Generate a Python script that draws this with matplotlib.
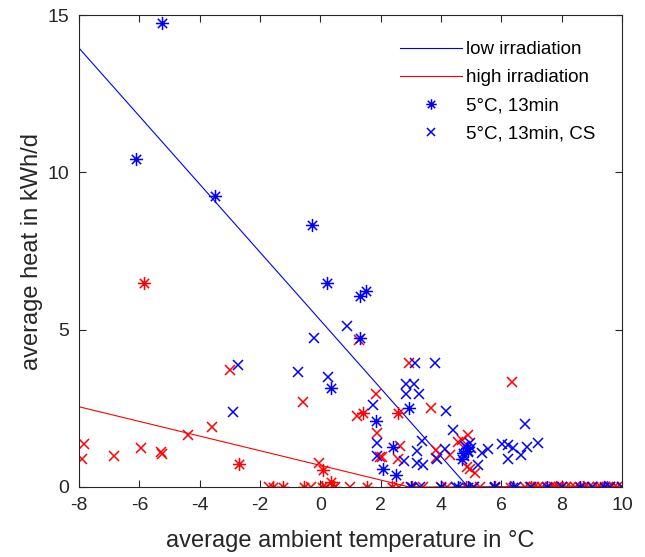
import numpy as np
import matplotlib
matplotlib.use("Agg")
import matplotlib.pyplot as plt
from matplotlib.path import Path

# ---------------- data ----------------
# fitted lines (low / high irradiation)
low_line_x = [-8, 4.9, 10]
low_line_y = [13.95, 0, 0]
high_line_x = [-8, 2.95, 10]
high_line_y = [2.55, 0, 0]

# low irradiation, 5°C 13min (blue asterisks)
low13_x = [-5.25, -6.11, -3.5, -0.26, 0.21, 1.33, 1.53, 1.33, 0.34, 2.95, 1.83,
           2.42, 2.09, 2.52, 4.74, 4.85, 4.7, 4.9, 3.0, 4.0, 4.55, 4.9, 5.75, 6.4,
           7.5, 8.6, 9.4]
low13_y = [14.74, 10.42, 9.25, 8.33, 6.48, 6.07, 6.23, 4.73, 3.15, 2.5, 2.1,
           1.27, 0.57, 0.38, 1.07, 1.25, 0.9, 1.15, 0, 0, 0, 0, 0, 0,
           0, 0, 0]

# low irradiation, 5°C 13min CS (blue x)
lowcs_x = [-0.22, 0.87, -2.74, -2.9, -0.75, 0.24, 3.15, 3.81, 2.85, 3.09, 2.85,
           3.28, 4.18, 1.73, 1.89, 1.89, 2.79, 3.19, 3.38, 3.22, 3.42, 4.41, 3.88,
           4.14, 5.57, 5.37, 5.24, 6.03, 6.23, 6.39, 6.23, 6.66, 6.86, 7.22, 6.79,
           4.97, 4.8, 4.9, 5.0, 4.75, 3.0, 3.3, 4.5, 5.1, 5.8, 6.5, 7.0, 8.0, 9.0,
           9.6, 10.0]
lowcs_y = [4.73, 5.11, 3.87, 2.38, 3.65, 3.5, 3.94, 3.94, 3.27, 3.27, 2.95,
           2.95, 2.42, 2.6, 1.4, 0.99, 0.83, 1.14, 1.46, 0.76, 0.7, 1.81, 0.89,
           1.2, 1.2, 1.07, 0.7, 1.37, 1.33, 1.24, 0.89, 1.02, 1.27, 1.4, 2.0,
           1.4, 1.3, 1.1, 1.25, 1.0, 0, 0, 0, 0, 0, 0, 0, 0, 0,
           0, 0]

# high irradiation, 5°C 13min (red asterisks)
high13_x = [-5.85, -2.7, 0.1, 0.37, 2.56, 1.4, -1.58, -1.25, -0.55, 0.07, 0.44,
            1.56, 2.39, 3.05, 4.84, 5.8, 6.3, 7.0, 7.8, 8.7, 9.5]
high13_y = [6.48, 0.73, 0.54, 0.16, 2.34, 2.35, 0, 0, 0, 0, 0,
            0, 0, 0, 0, 0, 0, 0, 0, 0, 0]

# high irradiation, 5°C 13min CS (red x)
highcs_x = [-7.83, -7.9, -6.84, -5.95, -5.29, -5.25, -4.39, -3.6, -3.0, -0.59,
            -0.06, 2.95, 1.83, 1.23, 1.89, 2.06, 2.65, 2.56, 3.68, 4.57, 4.71,
            4.9, 3.85, 3.85, 4.31, 4.87, 4.97, 5.14, 6.36, 1.27, 1.99,
            -1.7, -0.3, 0.2, 0.5, 1.0, 2.6, 3.4, 4.0, 4.2, 5.07, 5.3, 6.8, 6.95,
            7.1, 7.2, 7.35, 7.5, 7.6, 7.75, 7.9, 8.0, 8.15, 8.3, 8.45, 8.6, 8.75,
            8.9, 9.05, 9.2, 9.3, 9.45, 9.6, 9.75, 9.85, 10.0]
highcs_y = [1.37, 0.89, 0.99, 1.24, 1.11, 1.05, 1.65, 1.91, 3.72, 2.7,
            0.76, 3.94, 2.95, 2.26, 1.72, 0.95, 1.3, 0.89, 2.5, 1.43, 1.49,
            1.65, 1.18, 0.92, 1.02, 0.64, 0.57, 0.44, 3.34, 4.67, 0.95,
            0, 0, 0, 0, 0, 0, 0, 0, 0, 0, 0, 0, 0,
            0, 0, 0, 0, 0, 0, 0, 0, 0, 0, 0, 0, 0,
            0, 0, 0, 0, 0, 0, 0, 0, 0]

x_ticks = [-8, -6, -4, -2, 0, 2, 4, 6, 8, 10]
y_ticks = [0, 5, 10, 15]

# ---------------- style ----------------
plt.rcParams['font.family'] = ['Liberation Sans', 'DejaVu Sans']
plt.rcParams['axes.unicode_minus'] = False
BLUE = '#0000ff'
RED = '#ff0000'
TXT = '#262626'

# MATLAB-like asterisk marker (8 rays)
c = np.cos(np.pi / 4)
ast_verts = [(-1, 0), (1, 0), (0, -1), (0, 1), (-c, -c), (c, c), (-c, c), (c, -c)]
ast_codes = [Path.MOVETO, Path.LINETO] * 4
asterisk = Path(ast_verts, ast_codes)

fig = plt.figure(figsize=(6.45, 5.57), dpi=100)
ax = fig.add_axes([0.1225, 0.1257, 0.8418, 0.8473])

l1, = ax.plot(low_line_x, low_line_y, color=BLUE, lw=0.8, label='low irradiation')
l2, = ax.plot(high_line_x, high_line_y, color=RED, lw=0.8, label='high irradiation')

ms_a, ms_x, mew = 9.5, 7, 1.1
ax.plot(highcs_x, highcs_y, ls='none', marker='x', ms=ms_x, mew=mew, color=RED)
ax.plot(high13_x, high13_y, ls='none', marker=asterisk, ms=ms_a, mew=mew, color=RED)
p2, = ax.plot(lowcs_x, lowcs_y, ls='none', marker='x', ms=ms_x, mew=mew, color=BLUE,
              label='5°C, 13min, CS')
p1, = ax.plot(low13_x, low13_y, ls='none', marker=asterisk, ms=ms_a, mew=mew, color=BLUE,
              label='5°C, 13min')

ax.set_xlim(-8, 10)
ax.set_ylim(0, 15)
ax.set_xticks(x_ticks)
ax.set_yticks(y_ticks)
ax.tick_params(direction='in', top=True, right=True, labelsize=14,
               colors=TXT, length=5, width=0.8, pad=7)
for s in ax.spines.values():
    s.set_color(TXT)
    s.set_linewidth(0.8)

ax.set_xlabel('average ambient temperature in °C', fontsize=17, color=TXT, labelpad=12)
ax.set_ylabel('average heat in kWh/d', fontsize=17, color=TXT, labelpad=3)

leg = ax.legend(handles=[l1, l2, p1, p2], loc='upper right',
                bbox_to_anchor=(0.982, 0.98), frameon=False, fontsize=13.5,
                handlelength=3.33, handletextpad=0.2, labelspacing=0.58,
                markerscale=0.8)

fig.savefig('out.png', dpi=100)
